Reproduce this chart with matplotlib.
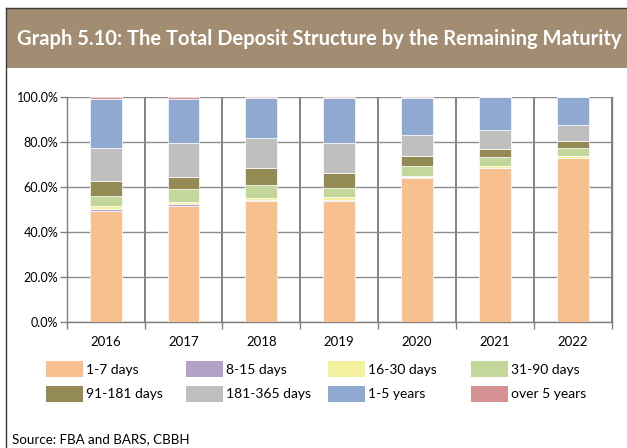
import matplotlib
matplotlib.use('Agg')
import matplotlib.pyplot as plt
from matplotlib.patches import Rectangle
from matplotlib.lines import Line2D
import numpy as np

W, H = 627, 448

years = ['2016', '2017', '2018', '2019', '2020', '2021', '2022']
labels = ['1-7 days', '8-15 days', '16-30 days', '31-90 days',
          '91-181 days', '181-365 days', '1-5 years', 'over 5 years']
colors = ['#F9C08F', '#B3A2C7', '#F3F09E', '#C4D79B',
          '#948A54', '#BFBFBF', '#8FA9D0', '#D49392']

# shares of total deposits, %
d_1_7 = [49.3, 51.6, 53.5, 53.5, 63.9, 68.3, 72.7]
d_8_15 = [0.8, 0.5, 0.4, 0.4, 0.2, 0.2, 0.2]
d_16_30 = [1.2, 1.2, 1.2, 1.4, 0.8, 0.8, 0.9]
d_31_90 = [4.6, 5.8, 5.5, 4.3, 4.4, 3.9, 3.2]
d_91_181 = [6.6, 5.3, 7.7, 6.3, 4.5, 3.7, 3.4]
d_181_365 = [14.5, 15.0, 13.2, 13.5, 9.0, 8.3, 7.0]
d_1_5y = [22.1, 19.7, 17.8, 19.9, 16.5, 14.5, 12.3]
d_over5 = [0.9, 0.9, 0.7, 0.7, 0.7, 0.3, 0.3]
series = [d_1_7, d_8_15, d_16_30, d_31_90, d_91_181, d_181_365, d_1_5y, d_over5]

plt.rcParams['font.family'] = ['Lato', 'DejaVu Sans']

fig = plt.figure(figsize=(W / 100, H / 100), dpi=100)


def fx(px):
    return px / W


def fy(py):
    return 1 - py / H


# frame and header band
fig.patches.append(Rectangle((fx(6.5), fy(68)), fx(W - 6.5), 60 / H,
                             transform=fig.transFigure, facecolor='#A38D72',
                             edgecolor='none', zorder=0))
fig.lines.append(Line2D([fx(6), fx(6)], [fy(8), 0], transform=fig.transFigure,
                        color='#3a3a3a', lw=1.0))
fig.lines.append(Line2D([fx(6), 1], [fy(8), fy(8)], transform=fig.transFigure,
                        color='#3a3a3a', lw=1.0))

title = fig.text(fx(17), fy(39), 'Graph 5.10: The Total Deposit Structure by the Remaining Maturity',
                 color='white', fontsize=15, fontweight='bold', va='center', ha='left')
fig.canvas.draw()
tw = title.get_window_extent().width
title.set_fontsize(15 * 605 / tw)

ax = fig.add_axes([fx(66.7), fy(321.7), fx(545), 225 / H])
x = np.arange(len(years))
bottom = np.zeros(len(years))
for vals, c, lab in zip(series, colors, labels):
    ax.bar(x, vals, width=0.41, bottom=bottom, color=c, label=lab,
           edgecolor='white', linewidth=0.5, zorder=3)
    bottom += np.array(vals)

ax.set_xlim(-0.5, len(years) - 0.5)
ax.set_ylim(0, 100)
ax.set_yticks(np.arange(0, 101, 20))
ax.set_yticklabels([f'{v:.1f}%' for v in np.arange(0, 101, 20)], fontsize=9)
ax.set_xticks(x)
ax.set_xticklabels(years, fontsize=9.5)
ax.set_xticks(np.arange(-0.5, len(years)), minor=True)
ax.tick_params(axis='x', which='major', length=0, pad=10)
ax.tick_params(axis='x', which='minor', length=5, color='#808080', width=1)
ax.tick_params(axis='y', length=5, color='#808080', width=1, pad=1)
ax.grid(axis='y', color='#8c8c8c', lw=1.0, zorder=0)
ax.grid(axis='x', which='minor', color='#777777', lw=1.3, zorder=0)
ax.set_axisbelow(True)
for s in ['left', 'bottom', 'right']:
    ax.spines[s].set_color('#808080')
    ax.spines[s].set_linewidth(1.0)
ax.spines['top'].set_visible(False)

# legend laid out in a 4 x 2 grid
col_x = [46, 186, 328, 471]
row_y = [361, 386]
for i, (lab, c) in enumerate(zip(labels, colors)):
    cx = col_x[i % 4]
    ry = row_y[i // 4]
    fig.patches.append(Rectangle((fx(cx), fy(ry + 16)), fx(37), 16 / H,
                                 transform=fig.transFigure, facecolor=c,
                                 edgecolor='none'))
    fig.text(fx(cx + 40), fy(ry + 8.5), lab, fontsize=10, va='center', ha='left')

fig.text(fx(12), fy(439), 'Source: FBA and BARS, CBBH', fontsize=9.6, va='center', ha='left')

fig.savefig('out.png', dpi=100)
